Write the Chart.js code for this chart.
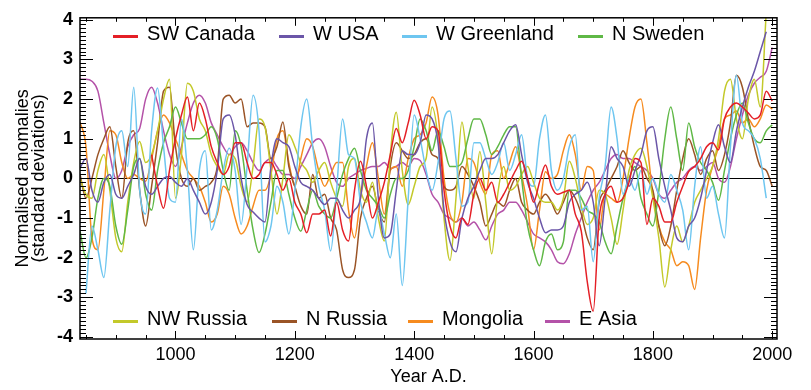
<!DOCTYPE html>
<html>
<head>
<meta charset="utf-8">
<script src="https://cdn.jsdelivr.net/npm/chart.js@4.4.1/dist/chart.umd.min.js"></script>
<style>
  html, body { margin: 0; padding: 0; background: #fff; }
  #wrap { width: 811px; height: 390px; }
</style>
</head>
<body>
<div id="wrap"><canvas id="chart" width="811" height="390"></canvas></div>
<script>
// decadal samples, 840 .. 2000
const years = [
  840, 850, 860, 870, 880, 890, 900, 910, 920, 930,
  940, 950, 960, 970, 980, 990, 1000, 1010, 1020, 1030,
  1040, 1050, 1060, 1070, 1080, 1090, 1100, 1110, 1120, 1130,
  1140, 1150, 1160, 1170, 1180, 1190, 1200, 1210, 1220, 1230,
  1240, 1250, 1260, 1270, 1280, 1290, 1300, 1310, 1320, 1330,
  1340, 1350, 1360, 1370, 1380, 1390, 1400, 1410, 1420, 1430,
  1440, 1450, 1460, 1470, 1480, 1490, 1500, 1510, 1520, 1530,
  1540, 1550, 1560, 1570, 1580, 1590, 1600, 1610, 1620, 1630,
  1640, 1650, 1660, 1670, 1680, 1690, 1700, 1710, 1720, 1730,
  1740, 1750, 1760, 1770, 1780, 1790, 1800, 1810, 1820, 1830,
  1840, 1850, 1860, 1870, 1880, 1890, 1900, 1910, 1920, 1930,
  1940, 1950, 1960, 1970, 1980, 1990, 2000
];
const xTicks = [1000, 1200, 1400, 1600, 1800, 2000];
const yTicks = [-4, -3, -2, -1, 0, 1, 2, 3, 4];

const names = ['SW Canada', 'W USA', 'W Greenland', 'N Sweden', 'NW Russia', 'N Russia', 'Mongolia', 'E Asia'];
const colors = ['#e41f26', '#6b56a8', '#6ec6f0', '#5fb846', '#c3c92a', '#9a5426', '#f68b1f', '#b452a8'];

const swCanada = [
  null, null, null, null, null, null, null, null, null, null,
  null, null, 0.6, -0.2, -0.75, 0.2, 1.0, 1.6, 2.05, 1.2,
  1.9, 1.5, 0.8, 0.4, 0.1, 0.3, 0.9, 0.9, 0.4, 0.0,
  0.1, 0.4, 0.4, 0.1, -0.3, 0.0, -0.6, -0.9, -1.37, -0.9,
  -0.9, -0.8, -1.45, -0.6, -1.3, -1.58, -0.3, 0.43, -0.2, -1.0,
  -0.6, -0.1, 0.6, 1.26, 0.9, 1.4, 1.97, 1.6, 1.0, 1.3,
  1.2, -0.3, -1.2, -1.5, -1.0, -1.16, -0.4, 0.0, -0.3, -0.1,
  -0.6, -0.4, -0.1, 0.2, 0.43, 0.0, -0.6, -0.1, 0.34, -0.2,
  -0.4, -0.35, -0.3, -0.9, -1.33, -2.6, -3.35, -1.0, -0.4, -0.2,
  -0.6, -0.5, -0.1, 0.5, 0.4, -1.16, -0.5, -0.7, -1.1, -1.1,
  -0.6, -0.2, 0.17, 0.3, 0.5, 0.8, 0.9, 0.72, 1.5, 1.8,
  1.9, 1.8, 1.65, 1.5, 1.6, 2.2, 1.95
];
const wUSA = [
  0.26, 0.5, -0.3, -0.6, -0.1, 0.1, -0.4, -0.5, -0.2, 0.1,
  0.5, -0.2, -0.4, -0.2, 0.0, 0.05, -0.1, -0.2, 0.0, -0.3,
  -0.6, -0.9, -0.6, 0.2, 1.5, 1.6, 1.1, 0.0, -0.66, -0.85,
  -1.0, -1.1, 0.3, 1.0, 0.9, 0.8, 0.3, -0.1, -0.2, -0.3,
  -0.5, -0.66, -0.5, -0.5, -0.8, -1.0, -0.8, -0.5, 1.0, 1.4,
  -0.5, -1.5, -1.4, -0.3, 0.7, 0.6, 0.6, 0.9, 1.6, 1.5,
  0.9, -0.8, -1.6, -1.85, -1.0, -0.5, -0.2, 0.2, 0.5, 0.5,
  0.6, 0.9, 1.2, 1.35, 0.6, -0.1, -0.5, -1.0, -1.37, -1.3,
  -1.3, -1.2, -0.6, -0.4, -0.3, -0.1, -0.6, -1.7, -0.5, 0.8,
  0.5, 0.3, -0.2, 0.2, 0.6, 1.2, 1.3, 0.5, -0.2, -0.8,
  -1.5, -1.6, -1.2, -1.0, -0.5, 0.2, 0.9, 1.35, 0.8, 0.4,
  1.2, 1.8, 2.3, 2.7, 3.2, 3.7, null
];
const wGreenland = [
  null, -2.9, -1.2, -1.8, -2.5, -0.8, 0.8, 1.2, 0.3, 2.3,
  -0.3, -0.9, 1.2, 2.28, 0.8, -0.5, -0.6, 1.5, 0.2, -1.8,
  0.2, 0.7, -1.3, -0.8, 0.2, 0.76, 0.2, -1.16, 0.3, 2.1,
  1.2, -1.6, -1.2, -0.2, -0.6, -1.4, -0.3, 1.3, 2.0, 0.8,
  -0.2, -0.8, -1.83, -0.3, 1.5, 0.6, 0.5, -0.6, -1.1, -1.5,
  -0.8, -1.4, -2.0, -0.9, -2.7, -0.5, 1.6, 1.0, 0.2, -0.3,
  0.4, 1.5, 1.7, 0.5, -0.7, -0.6, 0.9, 0.9, 0.5, 0.1,
  0.4, 0.9, 0.2, 0.6, 1.1, 0.0, -0.2, 1.0, 1.6, 0.2,
  -0.3, 0.0, 0.8, 1.1, -0.8, -0.7, -2.1, -0.5, 0.3, 1.8,
  1.0, -0.4, 0.0, -0.3, 0.2, -0.4, 0.0, -0.4, -0.6, 0.1,
  -0.3, -0.8, -1.8, -0.2, 0.8, -0.5, -0.2, -0.9, -1.5, 0.8,
  2.6, 1.4, 1.2, 1.0, 0.5, -0.5, null
];
const nSweden = [
  -1.33, -2.0, -1.5, -0.5, 0.0, -0.2, -1.2, -1.66, -0.8, 0.3,
  0.5, -0.4, -0.8, 0.2, 0.9, 1.3, 1.8, 1.4, 1.0, 1.0,
  1.0, 1.1, 1.3, 1.0, 0.2, -0.3, 1.2, 0.8, -0.3, -1.3,
  -1.87, -1.4, -0.6, 0.2, 0.2, -0.4, -1.0, -1.33, -0.8, -0.3,
  -0.7, -0.9, -1.0, -0.5, 0.1, 0.5, 0.76, 0.2, -0.3, -0.5,
  -0.7, -1.0, -0.4, 0.0, 0.0, 0.2, 0.8, 1.5, 1.2, 0.7,
  1.2, 0.8, 0.3, 0.3, 0.4, 1.0, 1.5, 1.5, 1.1, 0.6,
  0.8, 1.1, 1.3, 1.3, 0.0, -1.2, -1.8, -2.2, -1.6, -1.4,
  -1.8, -1.6, -0.3, -0.3, -0.5, -0.8, -0.9, -1.1, -1.6, -1.9,
  -1.2, -0.5, 0.0, 0.3, -0.5, -0.9, -1.2, -0.3, 1.0, 1.8,
  1.0, 0.2, 1.4, 0.8, 0.4, 0.2, -0.1, -0.55, 0.2, 1.0,
  1.6, 1.9, 1.4, 1.0, 0.9, 1.2, 1.35
];
const nwRussia = [
  0.0, -0.4, -0.5, 0.2, 0.6, -0.3, -1.5, -1.85, -0.6, 0.4,
  0.93, 0.4, 0.6, 1.2, 2.0, 2.5, -0.5, 0.6, 2.4, 2.2,
  1.5, 1.2, 0.6, 0.3, 0.1, 0.6, 0.5, -0.2, -0.6, 0.3,
  1.5, 1.3, 0.2, -0.9, 0.0, 1.1, 0.8, 0.4, 0.2, -0.1,
  0.2, 0.4, -0.1, -0.5, -0.7, 0.3, 0.5, -0.3, -0.6, -0.1,
  -1.0, -1.58, 0.6, 1.67, 0.2, -0.66, -0.2, 0.3, 0.5, 1.8,
  1.0, -1.0, -2.07, -0.5, 1.42, 0.3, -0.5, 0.68, -0.6, -1.9,
  -0.4, 0.3, -0.3, -0.2, 0.1, 0.3, -0.1, -0.5, -0.6, -0.6,
  -0.8, -0.5, 0.43, 0.0, -0.7, -1.16, -1.0, -0.3, -0.4, -1.0,
  -1.66, -0.8, 0.2, 0.6, 0.76, 0.3, -0.5, -1.5, -2.74, -1.8,
  -1.2, -1.6, -1.2, -0.6, -0.3, 0.0, 0.3, 1.0, 2.2, 2.5,
  1.5, 1.0, 2.0, 2.5, 1.8, 4.2, null
];
const nRussia = [
  0.1, -0.5, 0.0, 0.6, 1.0, 1.3, 0.3, -0.5, 0.9, 1.2,
  -0.3, -1.2, -0.2, 0.9, 2.2, 2.3, 0.8, 0.0, -0.2, 0.0,
  -0.3, -0.2, -0.1, 0.3, 2.0, 2.1, 1.9, 2.0, 1.3, 1.4,
  1.4, 1.3, 0.5, 0.8, 1.42, 0.3, -0.2, -0.7, -0.9, 0.1,
  -0.5, -0.4, -1.0, -1.3, -2.3, -2.5, -2.3, -1.0, -0.5, -0.2,
  -0.8, -1.1, 0.3, 0.9, 0.7, 0.5, 0.6, 0.9, 1.0, 0.6,
  0.5, -0.2, -0.3, -0.2, 0.3, 0.1, -0.2, -0.6, -1.2, -0.9,
  -0.6, -0.7, -0.3, 0.0, -0.6, -0.8, -0.9, -0.6, -0.4, -0.6,
  -0.9, -0.6, -0.3, -0.5, -0.9, -1.5, -1.8, -0.6, -0.3, 0.0,
  0.3, 0.7, 0.4, 0.2, 0.3, 0.0, -0.3, -1.2, -1.7, -1.2,
  -0.3, 0.5, 1.0, 0.6, 0.1, 0.5, 0.7, 0.2, 0.6, 1.4,
  2.6, 2.3, 1.5, 0.8, 0.3, 0.2, -0.2
];
const mongolia = [
  1.42, 0.8, -1.5, -1.8, -0.3, 1.2, 1.1, 0.4, 0.0, 0.1,
  0.0, -0.07, 0.5, 1.2, 1.6, 1.4, 1.0, 0.6, 0.2, 0.0,
  -0.2, -0.6, -1.1, -0.9, -0.2, -0.4, -1.0, -1.4, -1.2, -0.7,
  -0.3, -0.3, 0.1, 1.0, 1.2, 0.4, -0.2, 0.5, 1.0, 0.8,
  0.2, -0.2, 0.1, 0.4, 0.4, -0.8, -1.5, -0.5, 0.3, 0.9,
  0.0, -0.9, 0.2, 0.3, -0.2, 0.5, 1.0, 1.1, 1.4, 2.05,
  1.6, 0.0, -0.9, -1.1, -0.6, 0.5, 0.4, -0.1, -0.4, 0.6,
  0.7, 0.0, 0.4, 0.8, 0.1, -0.7, -1.8, -0.8, 0.17, 0.0,
  0.1, 0.7, 1.1, 0.6, -0.3, 0.3, 0.2, -1.3, -0.4, -0.5,
  -0.6, 0.0, 1.0, 1.8, 2.0, 0.9, -0.4, -1.2, -1.6, -1.8,
  -2.2, -2.1, -2.2, -2.8, -1.5, -0.3, 0.3, 0.8, 1.5, 1.6,
  1.7, 1.4, 1.5, 1.3, 1.5, 1.85, 1.75
];
const eAsia = [
  2.5, 2.5, 2.45, 2.2, 1.4, 0.6, 0.0, 0.2, 0.8, 1.1,
  1.26, 2.0, 2.3, 1.9, 1.2, 0.6, 0.3, 0.8, 1.4, 1.9,
  2.1, 1.9, 1.4, 1.1, 0.8, 0.6, 0.8, 0.9, 0.7, 0.4,
  0.2, 0.4, 0.5, 0.3, 0.1, 0.1, 0.0, 0.3, 0.6, 0.9,
  1.0, 0.8, 0.3, -0.1, -0.2, 0.0, 0.1, 0.2, 0.25, 0.3,
  0.3, 0.4, 0.25, 0.3, 0.4, 0.3, 0.5, 0.45, 0.1, -0.4,
  -0.6, -0.9, -1.0, -1.1, -1.0, -1.2, -1.1, -1.3, -1.55, -1.2,
  -0.9, -0.8, -0.6, -0.6, -0.8, -1.1, -1.4, -1.5, -1.6, -1.8,
  -2.1, -2.15, -1.9, -1.4, -1.0, -0.6, -0.3, -0.1, 0.2, 0.5,
  0.6, 0.5, 0.5, 0.4, 0.3, 0.2, 0.0, -0.4, -0.5, -0.3,
  -0.1, 0.0, 0.2, 0.3, 0.2, 0.3, 0.4, 0.0, -0.1, 0.3,
  1.0, 1.6, 2.1, 2.4, 2.55, 2.7, 3.3
];

const series = [swCanada, wUSA, wGreenland, nSweden, nwRussia, nRussia, mongolia, eAsia];
const FONT = '"Liberation Sans", Arial, Helvetica, sans-serif';

// legend entries: first four along the top, last four along the bottom
const legendTopX = [113, 279, 402, 578];
const legendBottomX = [113, 272, 408, 545];

const decor = {
  id: 'decor',
  afterDraw(chart) {
    const { ctx, chartArea: a, scales: { x, y } } = chart;
    ctx.save();

    // frame with inward ticks
    ctx.strokeStyle = '#000';
    ctx.lineWidth = 1.5;
    ctx.strokeRect(a.left, a.top, a.right - a.left, a.bottom - a.top);
    ctx.lineWidth = 1;
    ctx.beginPath();
    for (let v = 850; v <= 2000; v += 50) {
      const px = Math.round(x.getPixelForValue(v)) + 0.5;
      const len = v % 200 === 0 ? 8 : 4;
      ctx.moveTo(px, a.bottom); ctx.lineTo(px, a.bottom - len);
      ctx.moveTo(px, a.top); ctx.lineTo(px, a.top + len);
    }
    for (let k = -40; k <= 40; k++) {
      const py = Math.round(y.getPixelForValue(k / 10)) + 0.5;
      const len = k % 10 === 0 ? 13 : 6;
      ctx.moveTo(a.left, py); ctx.lineTo(a.left + len, py);
      ctx.moveTo(a.right, py); ctx.lineTo(a.right - len, py);
    }
    ctx.stroke();

    // axis titles
    ctx.fillStyle = '#000';
    ctx.font = '18px ' + FONT;
    ctx.textAlign = 'center';
    ctx.textBaseline = 'middle';
    ctx.fillText('Year A.D.', (a.left + a.right) / 2, 377);
    const cy = (a.top + a.bottom) / 2;
    ctx.save();
    ctx.translate(23, cy);
    ctx.rotate(-Math.PI / 2);
    ctx.fillText('Normalised anomalies', 0, 0);
    ctx.restore();
    ctx.save();
    ctx.translate(39, cy);
    ctx.rotate(-Math.PI / 2);
    ctx.fillText('(standard deviations)', 0, 0);
    ctx.restore();

    // legend
    ctx.font = '20px ' + FONT;
    ctx.textAlign = 'left';
    chart.data.datasets.forEach((ds, i) => {
      const top = i < 4;
      const lx = top ? legendTopX[i] : legendBottomX[i - 4];
      const ly = top ? 34 : 319;
      ctx.strokeStyle = ds.borderColor;
      ctx.lineWidth = 3;
      ctx.beginPath();
      ctx.moveTo(lx, ly + 2.5);
      ctx.lineTo(lx + 25, ly + 2.5);
      ctx.stroke();
      ctx.fillStyle = '#000';
      ctx.fillText(ds.label, lx + 34, ly);
    });
    ctx.restore();
  }
};

new Chart(document.getElementById('chart'), {
  type: 'line',
  data: {
    datasets: series.map((vals, i) => ({
      label: names[i],
      data: years.map((yr, j) => ({ x: yr, y: vals[j] })),
      borderColor: colors[i],
      backgroundColor: colors[i],
      borderWidth: 1.5,
      pointRadius: 0,
      cubicInterpolationMode: 'monotone',
      fill: false
    }))
  },
  options: {
    responsive: false,
    animation: false,
    devicePixelRatio: 1,
    layout: { padding: { top: 15, right: 34, left: 0, bottom: 0 } },
    plugins: { legend: { display: false }, tooltip: { enabled: false } },
    scales: {
      x: {
        type: 'linear',
        min: 840,
        max: 2008,
        afterBuildTicks: s => { s.ticks = xTicks.map(v => ({ value: v })); },
        afterFit: s => { s.height = 51; },
        grid: { display: false, drawTicks: false },
        border: { display: false },
        ticks: {
          color: '#000', padding: 5, maxRotation: 0,
          font: { family: FONT, size: 18 },
          callback: v => String(v)
        }
      },
      y: {
        type: 'linear',
        min: -4.05,
        max: 4.05,
        afterBuildTicks: s => { s.ticks = yTicks.map(v => ({ value: v })); },
        afterFit: s => { s.width = 80; },
        grid: {
          drawTicks: false,
          lineWidth: 1,
          color: c => (c.tick && c.tick.value === 0 ? '#000' : 'rgba(0,0,0,0)')
        },
        border: { display: false },
        ticks: { color: '#000', padding: 7, font: { family: FONT, size: 18, weight: 'bold' } }
      }
    }
  },
  plugins: [decor]
});
</script>
</body>
</html>
